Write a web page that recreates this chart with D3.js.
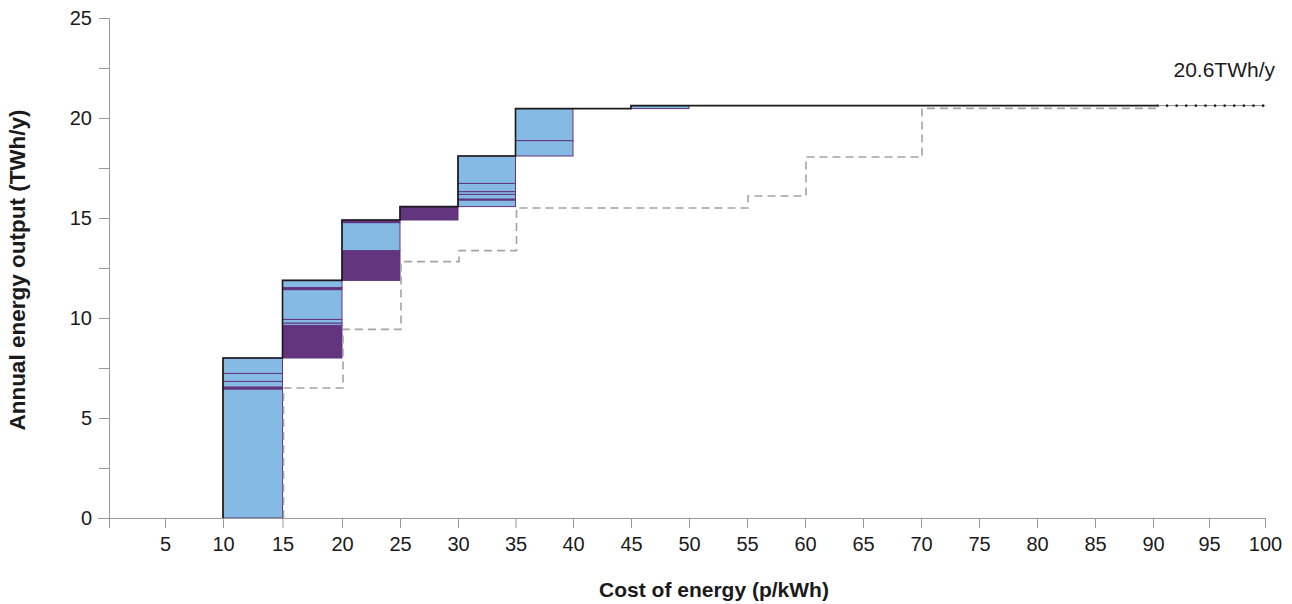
<!DOCTYPE html>
<html>
<head>
<meta charset="utf-8">
<script src="https://cdn.jsdelivr.net/npm/d3@7"></script>
<style>
  html, body { margin: 0; padding: 0; background: #fff; }
  svg { display: block; font-family: "Liberation Sans", Arial, sans-serif; }
</style>
</head>
<body>
<svg id="chart" width="1292" height="604"></svg>
<script>
// ---------- DATA ----------
const xTickValues = [5,10,15,20,25,30,35,40,45,50,55,60,65,70,75,80,85,90,95,100];
const yTickValues = [0,5,10,15,20,25];
const yMinorTicks = [2.5,7.5,12.5,17.5,22.5];

// cost bins (p/kWh)
const binX0 = [10,15,20,25,30,35,45];
const binX1 = [15,20,25,30,35,40,50];

// stacked segments inside each bin (TWh/y)
const segBin  = [0,0,0,0,0,   1,1,1,1,1,1,          2,2,2,          3,     4,4,4,4,4,4,               5,5,       6];
const segLo   = [0,6.45,6.55,6.83,7.23, 8.0,9.63,9.75,9.93,11.42,11.52, 11.88,13.37,14.77, 14.9, 15.57,15.9,15.95,16.18,16.32,16.73, 18.1,18.87, 20.47];
const segHi   = [6.45,6.55,6.83,7.23,8.0, 9.63,9.75,9.93,11.42,11.52,11.88, 13.37,14.77,14.9, 15.57, 15.9,15.95,16.18,16.32,16.73,18.1, 18.87,20.47, 20.62];
const segType = ["b","p","b","b","b", "p","b","b","b","p","b", "p","b","p", "p", "b","p","b","b","b","b", "b","b", "b"];

// upper envelope (solid black step line)
const envX = [10,10,15,20,25,30,35,45,90.3];
const envY = [0,8.0,11.88,14.9,15.57,18.1,20.47,20.62,20.62];

// continuation (dotted) of the total
const totX = [90.3,100];
const totY = [20.62,20.62];

// lower bound (dashed grey step line)
const lowX = [15,15,20,25,30,35,55,60,70,90.3];
const lowY = [0,6.5,9.43,12.82,13.37,15.5,16.1,18.05,20.48,20.48];

const totalLabel = "20.6TWh/y";
const xTitle = "Cost of energy (p/kWh)";
const yTitle = "Annual energy output (TWh/y)";

// ---------- DRAW ----------
const svg = d3.select("#chart");
const x = d3.scaleLinear()
  .domain([0,10,20,30,40,50,90,100])
  .range([107,223,342,458,573,689,1153,1265]);
const y = d3.scaleLinear().domain([0,25]).range([518,18]);
const axisX0 = 109;

const blue = "#85bae5", purple = "#62357e";
const axisCol = "#9a9a9a";
const fontFam = "Liberation Sans, Arial, sans-serif";

// segments
const segs = segBin.map((b,i)=>({b, lo:segLo[i], hi:segHi[i], t:segType[i]}));
svg.append("g").selectAll("rect").data(segs).join("rect")
  .attr("x", d => x(binX0[d.b]))
  .attr("width", d => x(binX1[d.b]) - x(binX0[d.b]))
  .attr("y", d => y(d.hi))
  .attr("height", d => y(d.lo) - y(d.hi))
  .attr("fill", d => d.t === "b" ? blue : purple)
  .attr("stroke", purple)
  .attr("stroke-width", 1);

// dashed lower line
const stepLine = d3.line().x(d=>d[0]).y(d=>d[1]).curve(d3.curveStepAfter);
svg.append("path")
  .attr("d", stepLine(lowX.map((v,i)=>[x(v)+1, y(lowY[i])])))
  .attr("fill","none").attr("stroke","#a3a3a3").attr("stroke-width",1.6)
  .attr("stroke-dasharray","8,5");

// envelope
svg.append("path")
  .attr("d", stepLine(envX.map((v,i)=>[x(v), y(envY[i])])))
  .attr("fill","none").attr("stroke","#1a1a1a").attr("stroke-width",1.6);

// dotted continuation
const plainLine = d3.line().x(d=>d[0]).y(d=>d[1]);
svg.append("path")
  .attr("d", plainLine(totX.map((v,i)=>[x(v), y(totY[i])])))
  .attr("fill","none").attr("stroke","#8a8a8a").attr("stroke-width",1);
svg.append("path")
  .attr("d", plainLine(totX.map((v,i)=>[x(v), y(totY[i])])))
  .attr("fill","none").attr("stroke","#111").attr("stroke-width",2.2)
  .attr("stroke-dasharray","2.2,7.4");

// axes
const gx = svg.append("g").attr("transform",`translate(0,${y(0)})`)
  .call(d3.axisBottom(x).tickValues(xTickValues).tickSize(10).tickPadding(9).tickFormat(d3.format("d")));
gx.select(".domain").remove();
gx.selectAll(".tick line").attr("stroke",axisCol);
gx.selectAll("text").attr("font-size",20).attr("fill","#1a1a1a").attr("font-family",fontFam);
svg.append("line").attr("x1",98).attr("x2",x(100)).attr("y1",y(0)+0.5).attr("y2",y(0)+0.5).attr("stroke",axisCol);
svg.append("line").attr("x1",axisX0+0.5).attr("x2",axisX0+0.5).attr("y1",y(0)).attr("y2",y(0)+10).attr("stroke",axisCol);

const gy = svg.append("g").attr("transform",`translate(${axisX0},0)`)
  .call(d3.axisLeft(y).tickValues(yTickValues).tickSize(10).tickPadding(7).tickFormat(d3.format("d")));
gy.select(".domain").remove();
gy.selectAll(".tick line").attr("stroke",axisCol);
gy.selectAll("text").attr("font-size",20).attr("fill","#1a1a1a").attr("font-family",fontFam);
svg.append("g").attr("transform",`translate(${axisX0},0)`)
  .call(d3.axisLeft(y).tickValues(yMinorTicks).tickSize(10).tickFormat(""))
  .call(g=>{g.select(".domain").remove(); g.selectAll("line").attr("stroke",axisCol);});
svg.append("line").attr("x1",axisX0+0.5).attr("x2",axisX0+0.5).attr("y1",y(25)).attr("y2",y(0)+10).attr("stroke",axisCol);

// labels
svg.append("text").attr("x", x(100)+10).attr("y", 77).attr("text-anchor","end")
  .attr("font-size",21).attr("fill","#1a1a1a").text(totalLabel);

svg.append("text").attr("x", 714).attr("y", 597).attr("text-anchor","middle")
  .attr("font-size",21).attr("font-weight","bold").attr("fill","#1a1a1a").text(xTitle);

svg.append("text").attr("transform","translate(25,270) rotate(-90)").attr("text-anchor","middle")
  .attr("font-size",22.5).attr("font-weight","bold").attr("fill","#1a1a1a").text(yTitle);
</script>
</body>
</html>
